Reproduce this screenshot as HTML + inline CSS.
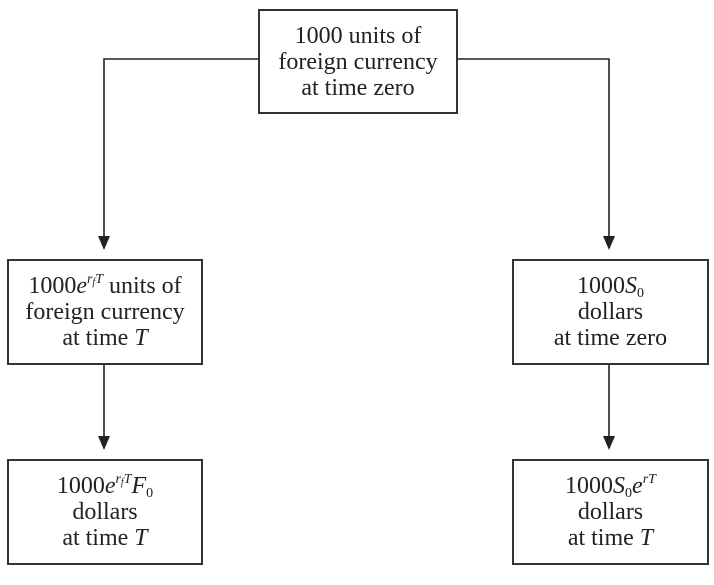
<!DOCTYPE html>
<html><head><style>
body{margin:0;width:714px;height:585px;background:#fff;position:relative;overflow:hidden;font-family:"Liberation Serif",serif;color:#222}
.b{position:absolute;border:2px solid #333;box-sizing:border-box;display:flex;align-items:center;justify-content:center;text-align:center;font-size:24px;line-height:26px}
i{font-style:italic}
sup{font-size:14px;vertical-align:10px;line-height:0}
sub{font-size:14px;vertical-align:-4px;line-height:0}
svg{position:absolute;left:0;top:0}
</style></head><body>
<svg width="714" height="585">
<g stroke="#222" stroke-width="1.6" fill="none">
<polyline points="258,59 104,59 104,238"/>
<polyline points="457,59 609,59 609,238"/>
<line x1="104" y1="365" x2="104" y2="438"/>
<line x1="609" y1="365" x2="609" y2="438"/>
</g>
<g fill="#222">
<polygon points="98,236 110,236 104,250"/>
<polygon points="603,236 615,236 609,250"/>
<polygon points="98,436 110,436 104,450"/>
<polygon points="603,436 615,436 609,450"/>
</g>
</svg>
<div class="b" style="left:258px;top:9px;width:200px;height:105px"><div>1000 units of<br>foreign currency<br>at time zero</div></div>
<div class="b" style="left:7px;top:259px;width:196px;height:106px"><div>1000<i>e</i><sup><i>r<sub style="font-size:10px;vertical-align:-2px">f</sub>T</i></sup> units of<br>foreign currency<br>at time <i>T</i></div></div>
<div class="b" style="left:512px;top:259px;width:197px;height:106px"><div>1000<i>S</i><sub>0</sub><br>dollars<br>at time zero</div></div>
<div class="b" style="left:7px;top:459px;width:196px;height:106px"><div>1000<i>e</i><sup><i>r<sub style="font-size:10px;vertical-align:-2px">f</sub>T</i></sup><i>F</i><sub>0</sub><br>dollars<br>at time <i>T</i></div></div>
<div class="b" style="left:512px;top:459px;width:197px;height:106px"><div>1000<i>S</i><sub>0</sub><i>e</i><sup><i>rT</i></sup><br>dollars<br>at time <i>T</i></div></div>
</body></html>
